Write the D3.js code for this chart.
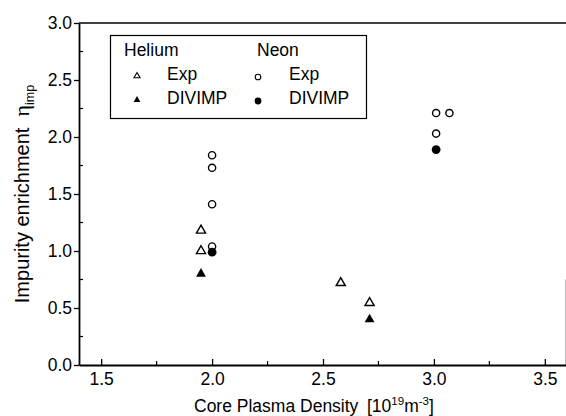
<!DOCTYPE html>
<html lang="en">
<head>
    <meta charset="UTF-8">
    <title>Impurity enrichment</title>
    <script src="https://d3js.org/d3.v7.min.js"></script>
    <style>
        body {
            margin: 0;
            padding: 0;
            background: #fff;
        }
        svg text {
            font-family: Arial, "Liberation Sans", Helvetica, sans-serif;
            fill: #000;
        }
    </style>
</head>
<body>
    <div id="chart"></div>

    <script>
        // data
        const heExpX = [1.95, 1.95, 2.58, 2.71];
        const heExpY = [1.18, 1.00, 0.72, 0.545];
        const heDivX = [1.95, 2.71];
        const heDivY = [0.80, 0.40];
        const neExpX = [2.0, 2.0, 2.0, 2.0, 3.01, 3.07, 3.01];
        const neExpY = [1.84, 1.73, 1.41, 1.04, 2.21, 2.21, 2.03];
        const neDivX = [2.0, 3.01];
        const neDivY = [0.99, 1.89];

        const xTicks = [1.5, 2.0, 2.5, 3.0, 3.5];
        const xMinor = [1.75, 2.25, 2.75, 3.25];
        const yTicks = [0.0, 0.5, 1.0, 1.5, 2.0, 2.5, 3.0];
        const yMinor = [0.25, 0.75, 1.25, 1.75, 2.25, 2.75];

        const width = 566, height = 416;
        const margin = { top: 23, right: -1, bottom: 51, left: 79 };

        const svg = d3.select("#chart").append("svg")
            .attr("width", width)
            .attr("height", height);

        const x = d3.scaleLinear()
            .domain([1.4, 3.6])
            .range([margin.left, width - margin.right]);
        const y = d3.scaleLinear()
            .domain([0, 3])
            .range([height - margin.bottom, margin.top]);

        const x0 = x.range()[0], x1 = x.range()[1];
        const y0 = y.range()[0], y1 = y.range()[1];

        // frame: top border, faint right border
        svg.append("line")
            .attr("x1", x0).attr("x2", x1)
            .attr("y1", y1).attr("y2", y1)
            .attr("stroke", "#000").attr("stroke-width", 1.6);
        svg.append("line")
            .attr("x1", 565.5).attr("x2", 565.5)
            .attr("y1", y(0.75)).attr("y2", y0)
            .attr("stroke", "#bbb").attr("stroke-width", 1);

        const tickFont = 17.5;

        // x axis
        const xAxis = svg.append("g")
            .attr("transform", `translate(0,${y0})`)
            .call(d3.axisBottom(x).tickValues(xTicks).tickFormat(d3.format(".1f"))
                .tickSizeInner(-6).tickSizeOuter(0).tickPadding(8));
        xAxis.selectAll(".tick line").attr("stroke-width", 1.3);
        xAxis.select(".domain").attr("stroke-width", 1.8);
        xAxis.selectAll("text").attr("font-size", tickFont);
        xAxis.selectAll(".minor")
            .data(xMinor).enter().append("line")
            .attr("x1", d => x(d)).attr("x2", d => x(d))
            .attr("y1", 0).attr("y2", -4)
            .attr("stroke", "#000").attr("stroke-width", 1.2);

        // y axis
        const yAxis = svg.append("g")
            .attr("transform", `translate(${x0},0)`)
            .call(d3.axisLeft(y).tickValues(yTicks).tickFormat(d3.format(".1f"))
                .tickSizeInner(5).tickSizeOuter(0).tickPadding(2));
        yAxis.selectAll(".tick line").attr("stroke-width", 1.3);
        yAxis.select(".domain").attr("stroke-width", 1.8);
        yAxis.selectAll("text").attr("font-size", tickFont).attr("dy", "0.3em");
        yAxis.selectAll(".minor")
            .data(yMinor).enter().append("line")
            .attr("x1", 0).attr("x2", 4)
            .attr("y1", d => y(d)).attr("y2", d => y(d))
            .attr("stroke", "#000").attr("stroke-width", 1.2);

        // axis titles
        svg.append("text")
            .attr("x", 194).attr("y", 412)
            .attr("font-size", 17.5)
            .text("Core Plasma Density");
        const xt = svg.append("text")
            .attr("x", 367).attr("y", 412)
            .attr("font-size", 17.5);
        xt.append("tspan").text("[10");
        xt.append("tspan").attr("font-size", 11.5).attr("dy", -7).text("19");
        xt.append("tspan").attr("dy", 7).text("m");
        xt.append("tspan").attr("font-size", 11.5).attr("dy", -7).text("-3");
        xt.append("tspan").attr("dy", 7).text("]");

        const yt = svg.append("text")
            .attr("transform", "translate(29,194) rotate(-90)")
            .attr("text-anchor", "middle")
            .attr("font-size", 20);
        yt.append("tspan").text("Impurity enrichment\u00a0\u00a0");
        yt.append("tspan").attr("font-family", "'Liberation Serif', serif").attr("font-size", 22).text("η");
        yt.append("tspan").attr("font-size", 12.5).attr("dy", 5).text("imp");

        // markers
        const tri = d3.symbol().type(d3.symbolTriangle);
        const pts = (xs, ys) => xs.map((v, i) => [v, ys[i]]);

        svg.append("g").selectAll("path")
            .data(pts(heExpX, heExpY)).enter().append("path")
            .attr("d", tri.size(36)())
            .attr("transform", d => `translate(${x(d[0])},${y(d[1])})`)
            .attr("fill", "#fff").attr("stroke", "#000").attr("stroke-width", 1.4);

        svg.append("g").selectAll("path")
            .data(pts(heDivX, heDivY)).enter().append("path")
            .attr("d", tri.size(42)())
            .attr("transform", d => `translate(${x(d[0])},${y(d[1])})`)
            .attr("fill", "#000");

        svg.append("g").selectAll("circle")
            .data(pts(neExpX, neExpY)).enter().append("circle")
            .attr("cx", d => x(d[0])).attr("cy", d => y(d[1]))
            .attr("r", 3.6)
            .attr("fill", "none").attr("stroke", "#000").attr("stroke-width", 1.4);

        svg.append("g").selectAll("circle")
            .data(pts(neDivX, neDivY)).enter().append("circle")
            .attr("cx", d => x(d[0])).attr("cy", d => y(d[1]))
            .attr("r", 4.4)
            .attr("fill", "#000");

        // legend
        const lg = svg.append("g");
        lg.append("rect")
            .attr("x", 110.5).attr("y", 35.5)
            .attr("width", 256).attr("height", 83)
            .attr("fill", "#fff").attr("stroke", "#000").attr("stroke-width", 1.2);

        const lgFont = 17.5;
        lg.append("text").attr("x", 124).attr("y", 56).attr("font-size", lgFont).text("Helium");
        lg.append("text").attr("x", 257).attr("y", 56).attr("font-size", lgFont).text("Neon");
        lg.append("text").attr("x", 167).attr("y", 80).attr("font-size", lgFont).text("Exp");
        lg.append("text").attr("x", 167).attr("y", 104).attr("font-size", lgFont).text("DIVIMP");
        lg.append("text").attr("x", 289).attr("y", 80).attr("font-size", lgFont).text("Exp");
        lg.append("text").attr("x", 289).attr("y", 104).attr("font-size", lgFont).text("DIVIMP");

        lg.append("path").attr("d", tri.size(16)())
            .attr("transform", "translate(137,76)")
            .attr("fill", "#fff").attr("stroke", "#000").attr("stroke-width", 1.1);
        lg.append("path").attr("d", tri.size(20)())
            .attr("transform", "translate(137,100)")
            .attr("fill", "#000");
        lg.append("circle").attr("cx", 258).attr("cy", 77).attr("r", 2.8)
            .attr("fill", "none").attr("stroke", "#000").attr("stroke-width", 1.1);
        lg.append("circle").attr("cx", 258).attr("cy", 101).attr("r", 3.4)
            .attr("fill", "#000");
    </script>
</body>
</html>
